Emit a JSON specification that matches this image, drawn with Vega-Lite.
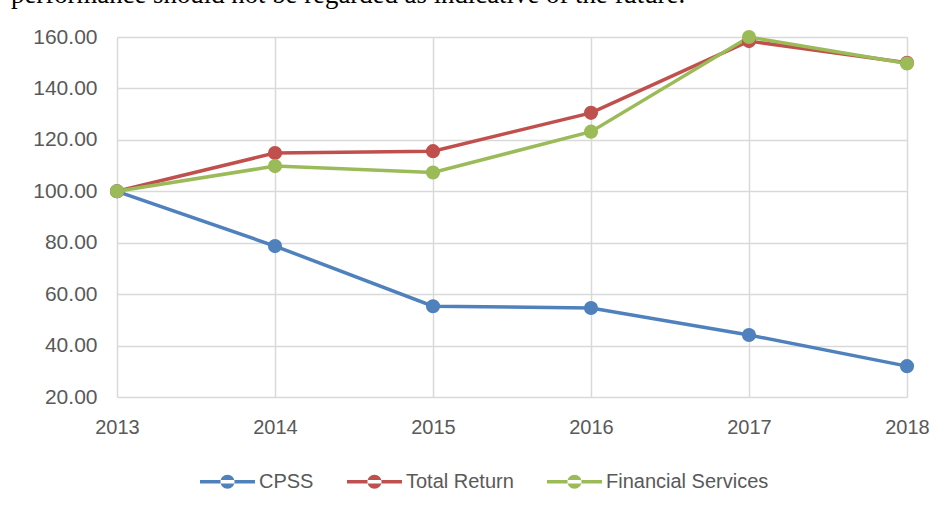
{
  "$schema": "https://vega.github.io/schema/vega-lite/v6.json",
  "autosize": "none",
  "width": 790,
  "height": 360,
  "padding": {"left": 117, "top": 37, "right": 40, "bottom": 115},
  "background": "white",
  "title": {
    "text": "performance should not be regarded as indicative of the future.",
    "anchor": "start",
    "frame": "group",
    "dx": -106,
    "offset": 17,
    "font": "Liberation Serif",
    "fontSize": 26.8,
    "fontWeight": "normal",
    "color": "black"
  },
  "data": {
    "values": [
      {"year": 2013, "series": "CPSS", "value": 100},
      {"year": 2014, "series": "CPSS", "value": 78.7},
      {"year": 2015, "series": "CPSS", "value": 55.3},
      {"year": 2016, "series": "CPSS", "value": 54.6},
      {"year": 2017, "series": "CPSS", "value": 44.1},
      {"year": 2018, "series": "CPSS", "value": 32.0},
      {"year": 2013, "series": "Total Return", "value": 100},
      {"year": 2014, "series": "Total Return", "value": 114.9},
      {"year": 2015, "series": "Total Return", "value": 115.6},
      {"year": 2016, "series": "Total Return", "value": 130.5},
      {"year": 2017, "series": "Total Return", "value": 158.4},
      {"year": 2018, "series": "Total Return", "value": 150.0},
      {"year": 2013, "series": "Financial Services", "value": 100},
      {"year": 2014, "series": "Financial Services", "value": 109.8},
      {"year": 2015, "series": "Financial Services", "value": 107.3},
      {"year": 2016, "series": "Financial Services", "value": 123.2},
      {"year": 2017, "series": "Financial Services", "value": 160.0},
      {"year": 2018, "series": "Financial Services", "value": 149.7}
    ]
  },
  "encoding": {
    "x": {
      "field": "year",
      "type": "quantitative",
      "scale": {"domain": [2013, 2018], "nice": false, "zero": false},
      "axis": {
        "title": null,
        "values": [2013, 2014, 2015, 2016, 2017, 2018],
        "format": "d",
        "domain": false,
        "ticks": false,
        "labelPadding": 20,
        "labelFont": "Liberation Sans",
        "labelFontSize": 20,
        "labelColor": "#595959",
        "gridColor": "#d9d9d9",
        "gridWidth": 1.5,
        "labelFlush": false
      }
    },
    "y": {
      "field": "value",
      "type": "quantitative",
      "scale": {"domain": [20, 160], "nice": false, "zero": false},
      "axis": {
        "title": null,
        "values": [20, 40, 60, 80, 100, 120, 140, 160],
        "format": ".2f",
        "domain": false,
        "ticks": false,
        "labelPadding": 20,
        "labelFont": "Liberation Sans",
        "labelFontSize": 21,
        "labelColor": "#595959",
        "gridColor": "#d9d9d9",
        "gridWidth": 1.5
      }
    },
    "color": {
      "field": "series",
      "type": "nominal",
      "sort": ["CPSS", "Total Return", "Financial Services"],
      "scale": {
        "domain": ["CPSS", "Total Return", "Financial Services"],
        "range": ["#4f81bd", "#c0504d", "#9bbb59"]
      },
      "legend": {
        "title": null,
        "orient": "none",
        "direction": "horizontal",
        "legendX": 83,
        "legendY": 417,
        "symbolType": "M-1,-0.06 L1,-0.06 L1,0.06 L-1,0.06 Z M0.255,0 A0.255,0.255 0 1,0 -0.255,0 A0.255,0.255 0 1,0 0.255,0 Z",
        "symbolSize": 3025,
        "symbolStrokeWidth": 0,
        "labelFont": "Liberation Sans",
        "labelFontSize": 20,
        "labelColor": "#595959",
        "labelOffset": 4,
        "labelLimit": 400,
        "columnPadding": 33,
        "encode": {
          "symbols": {
            "update": {
              "fill": {"scale": "color", "field": "value"},
              "fillOpacity": {"value": 1},
              "strokeWidth": {"value": 0}
            }
          }
        }
      }
    }
  },
  "layer": [
    {"mark": {"type": "line", "strokeWidth": 3.5}},
    {"mark": {"type": "point", "filled": true, "size": 200, "opacity": 1}}
  ],
  "config": {"view": {"stroke": null}}
}
